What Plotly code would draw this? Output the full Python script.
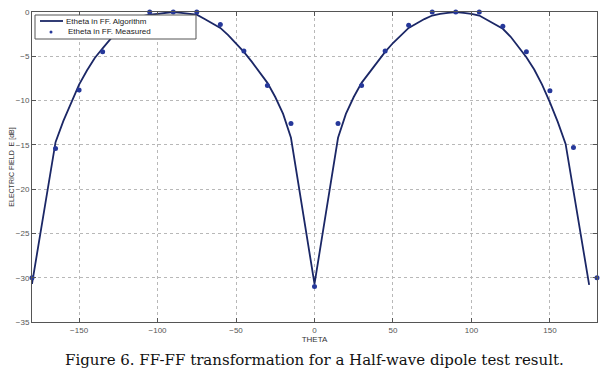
import plotly.graph_objects as go

# Algorithm curve (every 5 degrees)
theta_alg = list(range(-180, 185, 5))
e_alg = [-30.7, -25.5, -20.0, -14.7, -12.3, -10.3, -8.2, -6.6, -5.2, -4.1, -3.0, -2.0,
         -1.5, -0.9, -0.5, -0.3, -0.2, -0.1, 0.0, -0.1, -0.2, -0.3, -0.8, -1.3,
         -1.8, -2.6, -3.5, -4.5, -5.6, -6.8, -8.0, -9.6, -11.5, -14.2, -19.8, -25.2,
         -30.7,
         -25.2, -19.8, -14.2, -11.5, -9.6, -8.0, -6.8, -5.6, -4.5, -3.5, -2.6, -1.8,
         -1.3, -0.8, -0.4, -0.2, -0.1, 0.0, -0.1, -0.2, -0.4, -0.9, -1.4, -1.9,
         -2.8, -3.9, -5.1, -6.5, -8.2, -10.2, -12.4, -14.9, -20.1, -25.5, -30.8]

# Measured points (every 15 degrees)
theta_meas = list(range(-180, 195, 15))
e_meas = [-30.0, -15.4, -8.8, -4.5, -1.5, 0.0, 0.0, 0.0, -1.4, -4.4, -8.3, -12.6, -31.0,
          -12.6, -8.3, -4.4, -1.5, 0.0, 0.0, 0.0, -1.6, -4.5, -8.9, -15.3, -30.0]

x_ticks = [-150, -100, -50, 0, 50, 100, 150]
y_ticks = [0, -5, -10, -15, -20, -25, -30, -35]

legend_labels = ["Etheta in FF. Algorithm", "Etheta in FF. Measured"]
caption = "Figure 6. FF-FF transformation for a Half-wave dipole test result."

LINE_COLOR = "#1b2766"
MARK_COLOR = "#26389a"
SANS = "Liberation Sans, Arial"

# The page body has an 8px margin, so the figure is drawn 8px smaller and offset.
OFF = 8
TOP = 12  # plot top in page pixels

fig = go.Figure()
fig.add_trace(go.Scatter(x=theta_alg, y=e_alg, mode="lines",
                         line=dict(color=LINE_COLOR, width=1.8), cliponaxis=False,
                         name=legend_labels[0], showlegend=False))
fig.add_trace(go.Scatter(x=theta_meas, y=e_meas, mode="markers",
                         marker=dict(color=MARK_COLOR, size=5), cliponaxis=False,
                         name=legend_labels[1], showlegend=False))

axis_common = dict(showline=True, linecolor="#555555", linewidth=1, mirror="ticks",
                   ticks="inside", ticklen=4, tickcolor="#555555",
                   showgrid=True, gridcolor="#b8b8b8", griddash="dot", gridwidth=1,
                   zeroline=False, automargin=False, ticklabeloverflow="allow",
                   tickfont=dict(family=SANS, size=8, color="#555555"))

fig.update_xaxes(range=[-180, 180], tickvals=x_ticks,
                 title=dict(text="THETA", font=dict(family=SANS, size=8, color="#333333"),
                            standoff=1),
                 **axis_common)
fig.update_yaxes(range=[-35, 0], tickvals=y_ticks,
                 title=dict(text="ELECTRIC FIELD  E [dB]",
                            font=dict(family=SANS, size=7, color="#333333"),
                            standoff=3),
                 **axis_common)

# plot area in page pixels: x 32..597, y TOP..322
PW, PH = 565.0, 322.0 - TOP
def px(xp):
    return (xp - 32) / PW
def py(yp):
    return 1 - (yp - TOP) / PH

shapes = [
    dict(type="rect", xref="paper", yref="paper", x0=px(35), x1=px(196), y0=py(39), y1=py(15),
         fillcolor="white", line=dict(color="#555555", width=1), layer="above"),
    dict(type="line", xref="paper", yref="paper", x0=px(40), x1=px(63), y0=py(21), y1=py(21),
         line=dict(color=LINE_COLOR, width=1.8), layer="above"),
    dict(type="circle", xref="paper", yref="paper", x0=px(49.5), x1=px(52.5), y0=py(33.5), y1=py(30.5),
         fillcolor=MARK_COLOR, line=dict(color=MARK_COLOR, width=0), layer="above"),
]

annotations = [
    dict(text=legend_labels[0], x=px(64), y=py(21), xref="paper", yref="paper",
         xanchor="left", yanchor="middle", showarrow=False,
         font=dict(family=SANS, size=8, color="#222222")),
    dict(text=legend_labels[1], x=px(66), y=py(32), xref="paper", yref="paper",
         xanchor="left", yanchor="middle", showarrow=False,
         font=dict(family=SANS, size=8, color="#222222")),
    dict(text=caption, x=0.5, y=0, xref="paper", yref="paper",
         xanchor="center", yanchor="middle", yshift=-38, showarrow=False,
         font=dict(family="DejaVu Serif", size=15, color="#111111")),
]

fig.update_layout(
    width=610 - OFF, height=375 - OFF,
    margin=dict(l=32 - OFF, r=13, t=TOP - OFF, b=53, autoexpand=False),
    plot_bgcolor="white", paper_bgcolor="white",
    showlegend=False,
    shapes=shapes,
    annotations=annotations,
)

fig.write_html("out.html")
